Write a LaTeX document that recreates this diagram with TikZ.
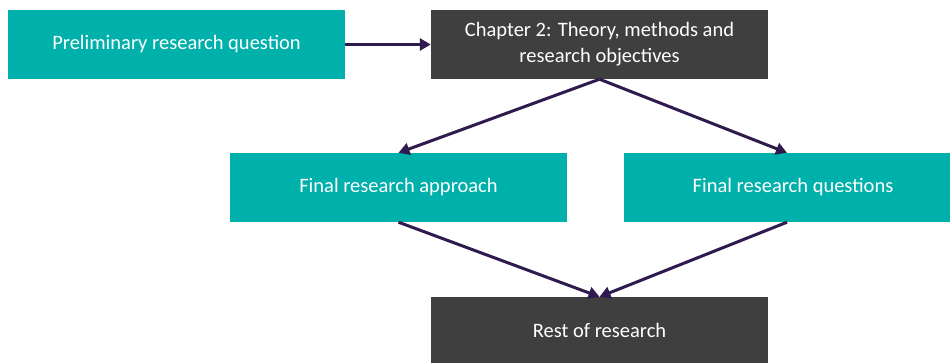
\documentclass[tikz,border=0pt]{standalone}
\usepackage{fontspec}
\setmainfont{Carlito}
\usetikzlibrary{arrows.meta}
\definecolor{tealbox}{HTML}{00B0AA}
\definecolor{darkbox}{HTML}{3F3F3F}
\definecolor{arrowc}{HTML}{2F1B4E}
\begin{document}
\begin{tikzpicture}[x=1pt,y=-1pt,
  boxbase/.style={draw=none,text=white,font=\fontsize{20.5}{26}\selectfont,align=center,inner sep=0pt},
  tealnode/.style={boxbase,fill=tealbox},
  darknode/.style={boxbase,fill=darkbox},
  conn/.style={draw=arrowc,line width=3pt,-{Triangle[length=11pt,width=12pt]}}]
\useasboundingbox (0,0) rectangle (950,363);
\node[tealnode,minimum width=337pt,minimum height=69pt] (pre) at (176.5,44.5) {Preliminary research question};
\node[darknode,minimum width=337pt,minimum height=69pt] (ch2) at (599.5,44.5) {Chapter 2: Theory, methods and\\research objectives};
\node[tealnode,minimum width=337pt,minimum height=69pt] (app) at (398.5,187.5) {Final research approach};
\node[tealnode,minimum width=326pt,minimum height=69pt] (que) at (787,187.5) {\hspace{12pt}Final research questions};
\node[darknode,minimum width=337pt,minimum height=66pt] (rest) at (599.5,330) {Rest of research};
\draw[conn] (pre.east) -- (ch2.west);
\draw[conn] (ch2.south) -- (app.north);
\draw[conn] (ch2.south) -- (que.north);
\draw[conn] (app.south) -- (rest.north);
\draw[conn] (que.south) -- (rest.north);
\end{tikzpicture}
\end{document}
